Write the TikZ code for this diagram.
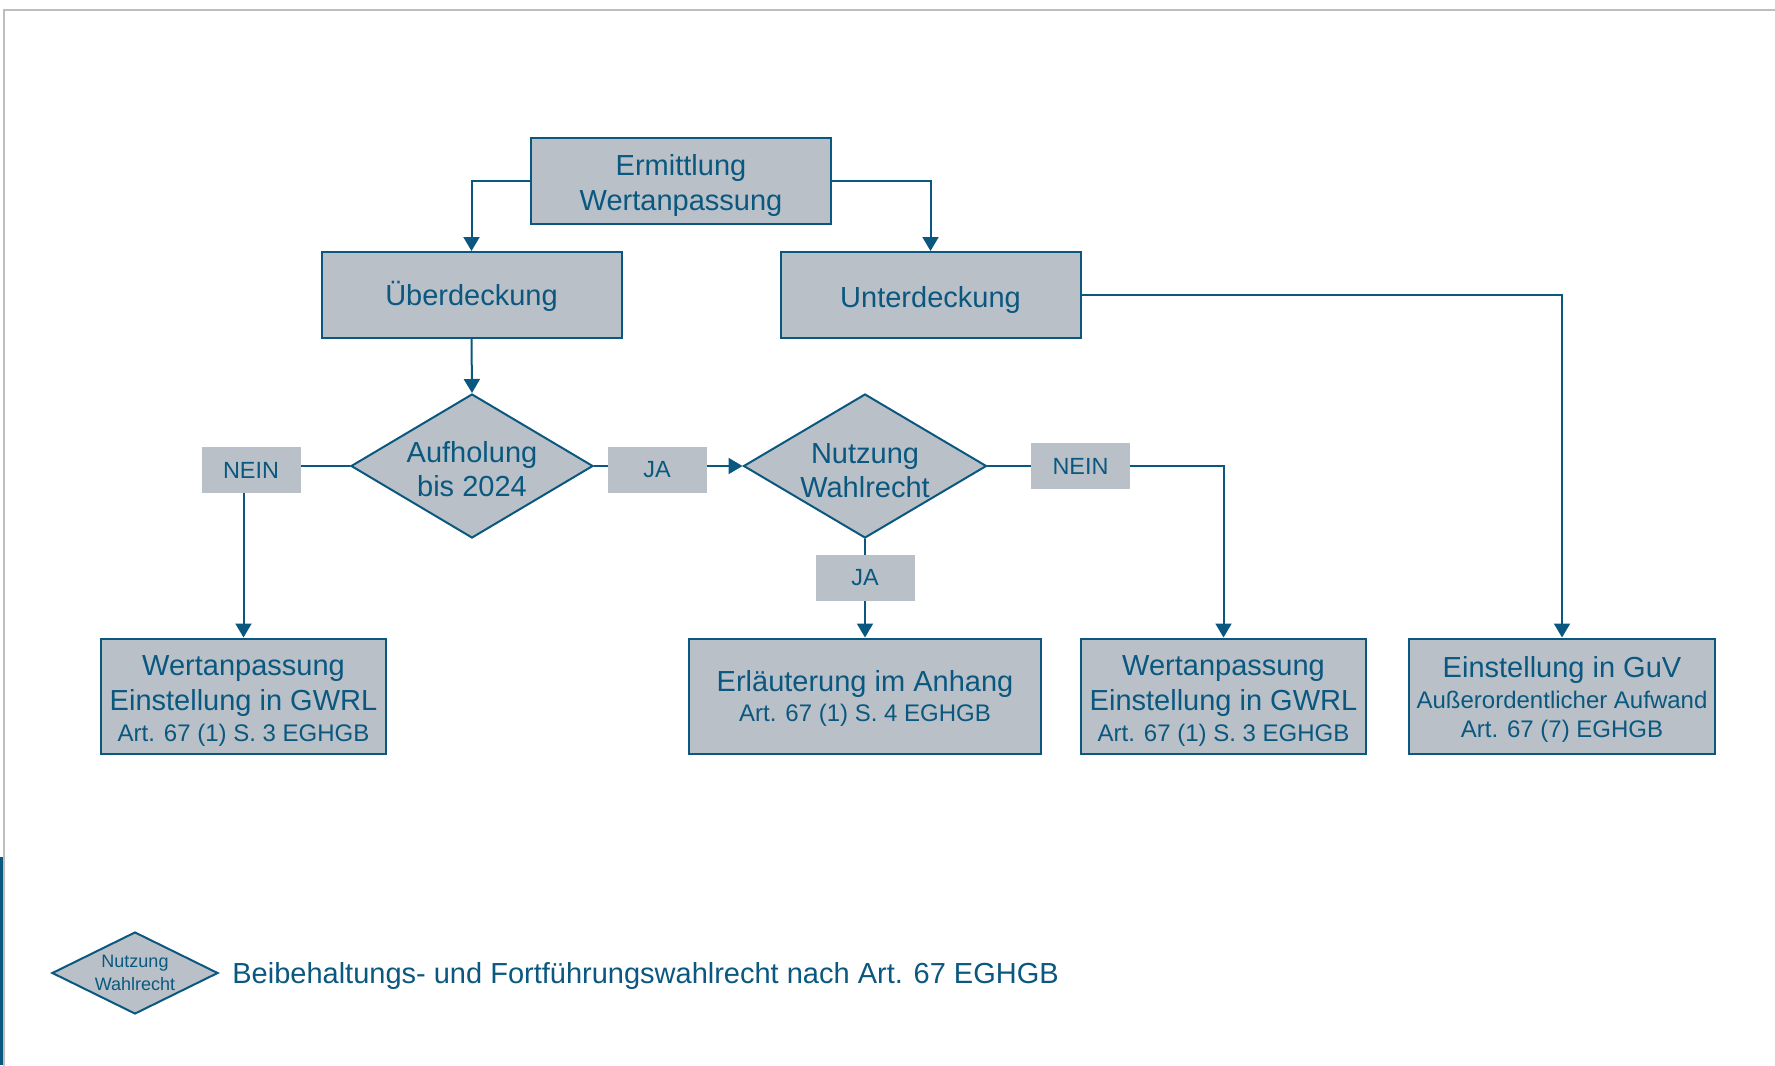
\documentclass[tikz,border=0pt]{standalone}
\usepackage{fontspec}
\setmainfont{Liberation Sans}
\usetikzlibrary{shapes.geometric,arrows.meta}
\definecolor{wblue}{RGB}{10,88,128}
\definecolor{wgray}{RGB}{185,192,199}
\definecolor{framegray}{RGB}{190,190,190}
\newcommand{\artsize}{\fontsize{12}{15}\selectfont}
\newcommand{\lift}[1]{\rule{0pt}{#1}}

\begin{document}
\begin{tikzpicture}[x=0.5pt,y=-0.5pt,line cap=round,
  >={Triangle[length=7pt,width=8pt]},
  box/.style={draw=wblue,line width=1pt,fill=wgray,text=wblue,align=center,
    inner sep=0pt,font=\fontsize{14.5}{17.5}\selectfont},
  dec/.style={diamond,draw=wblue,line width=1pt,fill=wgray,text=wblue,
    align=center,font=\fontsize{14.5}{17}\selectfont},
  lbl/.style={fill=wgray,text=wblue,minimum width=49.5pt,minimum height=23pt,
    inner sep=0pt,font=\fontsize{11.7}{14}\selectfont},
  con/.style={draw=wblue,line width=1pt}]
  \useasboundingbox (0,0) rectangle (1775,1065);
  % frame
  \draw[framegray,line width=1.2pt] (4,1065) -- (4,10) -- (1775,10);
  \fill[wblue] (0,857) rectangle (3,1065);

  % boxes
  \node[box,minimum width=150pt,minimum height=43pt] (erm) at (681,181)
    {\lift{15.5pt}Ermittlung\\Wertanpassung};
  \node[box,minimum width=150pt,minimum height=43pt] (ueber) at (471.5,295)
    {\lift{13.5pt}Überdeckung};
  \node[box,minimum width=150pt,minimum height=43pt] (unter) at (930.5,295)
    {\lift{16pt}Unterdeckung};
  \node[dec,aspect=1.68,inner sep=-2pt,minimum width=121pt,
    minimum height=72pt] (aufh) at (472,466) {\lift{13.3pt}Aufholung\\bis 2024};
  \node[dec,aspect=1.68,inner sep=-2pt,minimum width=121.5pt,
    minimum height=72pt] (nutz) at (865,466) {\lift{14.5pt}Nutzung\\Wahlrecht};
  \node[box,minimum width=142.5pt,minimum height=57.5pt] (gwrlA) at (243.5,696)
    {\lift{15pt}Wertanpassung\\Einstellung in GWRL\\[-2.2pt]{\artsize Art. 67 (1) S. 3 EGHGB}};
  \node[box,minimum width=176pt,minimum height=57.5pt] (anhang) at (865,696)
    {\lift{13pt}Erläuterung im Anhang\\[-2.8pt]{\artsize Art. 67 (1) S. 4 EGHGB}};
  \node[box,minimum width=142.5pt,minimum height=57.5pt] (gwrlB) at (1223.5,696)
    {\lift{15pt}Wertanpassung\\Einstellung in GWRL\\[-2.2pt]{\artsize Art. 67 (1) S. 3 EGHGB}};
  \node[box,minimum width=153pt,minimum height=57.5pt] (guv) at (1562,696)
    {\lift{14.3pt}Einstellung in GuV\\[-2.3pt]{\artsize Außerordentlicher Aufwand}\\[-2.8pt]{\artsize Art. 67 (7) EGHGB}};

  % connectors
  \draw[con,->] (erm.west) -| (ueber.north);
  \draw[con,->] (erm.east) -| (unter.north);
  \draw[con,->] (ueber.south) -- (aufh.north);
  \draw[con,->] (unter.east) -| (guv.north);
  \draw[con,->] (aufh.west) -| (gwrlA.north);
  \draw[con,->] (aufh.east) -- (nutz.west);
  \draw[con,->] (nutz.east) -| (gwrlB.north);
  \draw[con,->] (nutz.south) -- (anhang.north);

  % labels
  \node[lbl] (neinL) at (251,470) {NEIN};
  \node[lbl] (jaA) at (657,470) {JA};
  \node[lbl] (neinR) at (1080.5,466) {NEIN};
  \node[lbl] (jaB) at (865,578) {JA};

  % legend
  \node[dec,aspect=2.02,inner sep=0pt,minimum width=83pt,minimum height=41pt,
    font=\fontsize{9}{11.3}\selectfont] (legdia) at (135,973) {Nutzung\\Wahlrecht};
  \node[anchor=west,text=wblue,inner sep=0pt,font=\fontsize{14.5}{17.5}\selectfont]
    (legtxt) at (232,976) {Beibehaltungs- und Fortführungswahlrecht nach Art. 67 EGHGB};
\end{tikzpicture}
\end{document}
